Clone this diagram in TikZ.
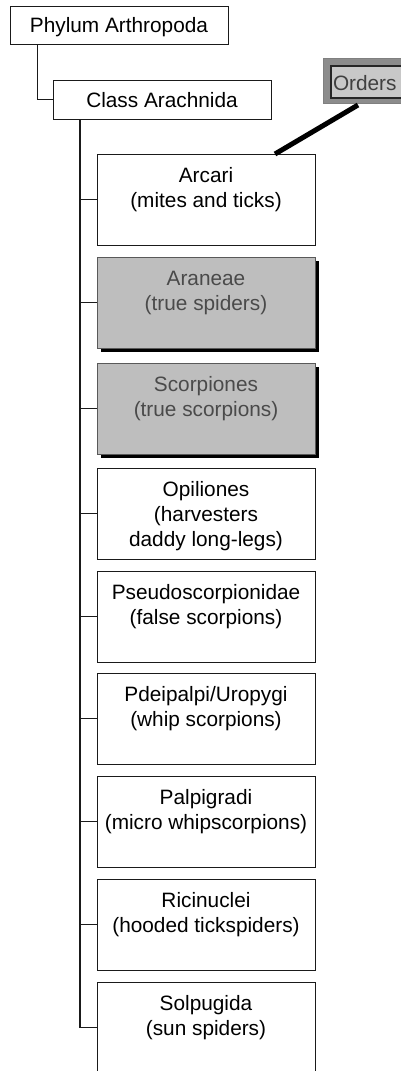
\documentclass[tikz,border=0pt]{standalone}
\usepackage{fontspec}
\setmainfont{Liberation Sans}
\usetikzlibrary{shadows}
\definecolor{boxgray}{HTML}{BEBEBE}
\definecolor{graytext}{HTML}{4A4A4A}
\definecolor{frameouter}{HTML}{8C8C8C}
\definecolor{frameinner}{HTML}{C8C8C8}
\definecolor{linecol}{HTML}{1A1A1A}
\begin{document}
\begin{tikzpicture}[x=1pt,y=-1pt,
  every node/.style={inner sep=0pt, outer sep=0pt},
  topbox/.style={draw=linecol, line width=0.9pt, fill=white, minimum width=218pt, minimum height=38pt, anchor=north west, text height=17pt, text depth=2pt, font=\fontsize{20.8}{25}\selectfont},
  orderbox/.style={draw=linecol, line width=0.9pt, fill=white, minimum width=218pt, minimum height=91pt, anchor=north west},
  hibox/.style={orderbox, fill=boxgray, draw=gray!70!black, drop shadow={shadow xshift=3.5pt, shadow yshift=-3.5pt, fill=black, opacity=1}},
  txt/.style={font=\fontsize{20.8}{25}\selectfont, align=center, anchor=north, text=black, yshift=-12pt},
  gtxt/.style={txt, text=graytext},
  branch/.style={draw=linecol, line width=1.1pt},
  spine/.style={draw=linecol, line width=1.8pt},
  pointer/.style={draw=black, line width=5pt}
]
\useasboundingbox (0,0) rectangle (400,1071);

% top of the hierarchy
\node[topbox] (phylum) at (10,6) {Phylum Arthropoda};
\node[topbox, minimum height=39pt] (class) at (53,80) {Class Arachnida};

% order boxes
\node[orderbox] (arcari) at (97,154) {};
\node[hibox] (araneae) at (97,257) {};
\node[hibox] (scorp) at (97,363) {};
\node[orderbox] (opil) at (97,468) {};
\node[orderbox] (pseudo) at (97,571) {};
\node[orderbox] (pdei) at (97,673) {};
\node[orderbox] (palp) at (97,776) {};
\node[orderbox] (ricin) at (97,879) {};
\node[orderbox] (solp) at (97,982) {};

% texts
\node[txt] (arcaritxt) at (arcari.north) {\rule{0pt}{16pt}Arcari\\(mites and ticks)};
\node[gtxt] (araneaetxt) at (araneae.north) {\rule{0pt}{16pt}Araneae\\(true spiders)};
\node[gtxt] (scorptxt) at (scorp.north) {\rule{0pt}{16pt}Scorpiones\\(true scorpions)};
\node[txt] (opiltxt) at (opil.north) {\rule{0pt}{16pt}Opiliones\\(harvesters\\daddy long-legs)};
\node[txt] (pseudotxt) at (pseudo.north) {\rule{0pt}{16pt}Pseudoscorpionidae\\(false scorpions)};
\node[txt] (pdeitxt) at (pdei.north) {\rule{0pt}{16pt}Pdeipalpi/Uropygi\\(whip scorpions)};
\node[txt] (palptxt) at (palp.north) {\rule{0pt}{16pt}Palpigradi\\(micro whipscorpions)};
\node[txt] (ricintxt) at (ricin.north) {\rule{0pt}{16pt}Ricinuclei\\(hooded tickspiders)};
\node[txt] (solptxt) at (solp.north) {\rule{0pt}{16pt}Solpugida\\(sun spiders)};

% Orders label
\node[anchor=north west, minimum width=82pt, minimum height=45pt, fill=frameouter, draw=gray, line width=0.6pt] (orders) at (323,58) {};
\node[anchor=north west, minimum width=80pt, minimum height=32pt, fill=frameinner, draw=black!85, line width=2pt] (ordersin) at (331,66) {};
\node[anchor=base west, font=\fontsize{20.8}{25}\selectfont, text=black!75] (orderstxt) at (333,90.5) {Orders};

% connectors
\draw[branch] ([xshift=27.7pt]phylum.south west) |- (class.west);
\coordinate (spinetop) at ([xshift=27pt]class.south west);
\draw[spine] (spinetop) |- (solp.west);
\foreach \b in {arcari,araneae,scorp,opil,pseudo,pdei,palp,ricin}
  \draw[branch] (\b.west) -- (\b.west -| spinetop);
\draw[pointer] ([xshift=35pt,yshift=-2pt]orders.south west) -- ([xshift=178pt]arcari.north west);
\end{tikzpicture}
\end{document}
